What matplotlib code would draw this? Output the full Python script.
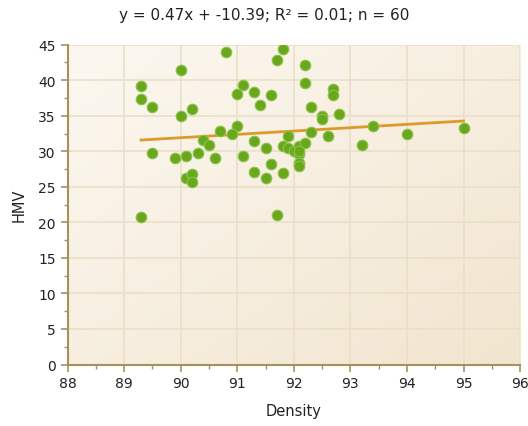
import numpy as np
import matplotlib.pyplot as plt
from matplotlib.colors import LinearSegmentedColormap
from matplotlib.ticker import MultipleLocator

# density vs HMV
density = [89.3, 89.3, 89.5, 90.0, 90.8, 91.8, 91.7, 91.1, 91.0, 91.3,
           91.6, 91.4, 90.0, 90.2, 90.7, 91.0, 90.9, 90.4, 90.5, 89.5,
           89.9, 90.1, 90.3, 90.6, 91.1, 91.3, 91.5, 91.8, 91.9, 90.1,
           90.2, 90.2, 91.3, 91.5, 91.6, 91.8, 89.3, 91.7, 92.2, 92.2,
           92.3, 92.7, 92.7, 92.5, 92.5, 92.8, 92.3, 92.6, 93.4, 93.2,
           94.0, 95.0, 91.9, 92.0, 92.1, 92.2, 92.1, 92.1, 92.1, 92.1]
hmv = [39.2, 37.3, 36.2, 41.4, 44.0, 44.4, 42.8, 39.3, 38.1, 38.4,
       37.9, 36.5, 35.0, 35.9, 32.9, 33.6, 32.4, 31.6, 30.9, 29.7,
       29.1, 29.4, 29.8, 29.1, 29.3, 31.4, 30.5, 30.8, 32.2, 26.3,
       26.8, 25.7, 27.1, 26.3, 28.2, 27.0, 20.8, 21.0, 42.2, 39.6,
       36.3, 38.8, 37.9, 34.9, 34.5, 35.2, 32.7, 32.2, 33.5, 30.9,
       32.4, 33.3, 30.4, 30.1, 30.8, 31.2, 29.6, 28.3, 28.0, 30.0]

slope = 0.47
intercept = -10.39
r2 = 0.01

fig = plt.figure(figsize=(5.28, 4.27), dpi=100)
ax = fig.add_axes([0.128, 0.144, 0.857, 0.749])

# cream gradient background
bg = LinearSegmentedColormap.from_list('bg', ['#fcf8f1', '#f2e5cf'])
gx, gy = np.meshgrid(np.linspace(0, 1, 200), np.linspace(0, 1, 200))
ax.imshow(gx * 0.5 + gy * 0.5, cmap=bg, extent=[88, 96, 0, 45], origin='upper',
          aspect='auto', zorder=0)

ax.set_xlim(88, 96)
ax.set_ylim(0, 45)
ax.xaxis.set_major_locator(MultipleLocator(1))
ax.xaxis.set_minor_locator(MultipleLocator(0.5))
ax.yaxis.set_major_locator(MultipleLocator(5))
ax.yaxis.set_minor_locator(MultipleLocator(2.5))
ax.grid(True, which='major', color='#ebdfc9', linewidth=1.2, zorder=1)
ax.set_axisbelow(True)

for s in ['top', 'right']:
    ax.spines[s].set_visible(False)
for s in ['left', 'bottom']:
    ax.spines[s].set_color('#a8905c')
    ax.spines[s].set_linewidth(1.5)
ax.tick_params(which='major', length=5, width=1.2, color='#a8905c',
               labelsize=10, labelcolor='#222222')
ax.tick_params(which='minor', length=3, width=1, color='#a8905c')

xs = np.array([min(density), max(density)])
ax.plot(xs, slope * xs + intercept, color='#dd9a2c', linewidth=2, zorder=3)

ax.scatter(density, hmv, s=58, color='#69a81c', edgecolors='#8dc34b',
           linewidths=0.8, zorder=4)

ax.set_xlabel('Density', fontsize=10.5, color='#222222', labelpad=9)
ax.set_ylabel('HMV', fontsize=10.5, color='#222222', labelpad=8)
fig.text(0.5, 0.963, f'y = {slope}x + {intercept}; R\u00b2 = {r2}; n = {len(hmv)}',
         ha='center', va='center', fontsize=11, color='#222222')

fig.savefig('out.png', dpi=100)
